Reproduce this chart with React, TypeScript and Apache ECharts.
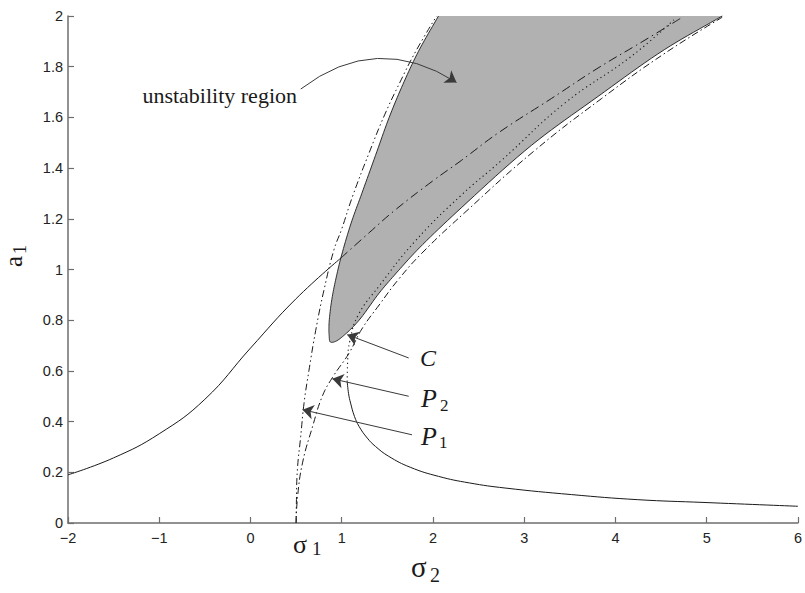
import React, { useEffect, useRef } from "react";
import * as echarts from "echarts";

// ---- data (x = sigma_2, y = a_1) ----
const lowerLeftBranch: number[][] = [
  [-2, 0.19], [-1.5, 0.257], [-1.0, 0.352], [-0.5, 0.488], [0.0, 0.69], [0.5, 0.885], [0.99, 1.045],
];
const upperContinuation: number[][] = [
  [0.99, 1.045], [1.3, 1.145], [1.59, 1.236], [2.0, 1.35], [2.31, 1.43], [2.72, 1.54],
  [3.3, 1.675], [3.81, 1.795], [4.3, 1.9], [4.71, 1.99],
];
const middleBranch: number[][] = [
  [1.06, 0.558], [1.065, 0.64], [1.09, 0.72], [1.18, 0.82], [1.41, 0.935], [1.8, 1.11],
  [2.3, 1.29], [2.75, 1.43], [3.44, 1.655], [4.17, 1.84], [4.64, 1.985],
];
const lowerRightBranch: number[][] = [
  [1.06, 0.558], [1.075, 0.51], [1.097, 0.473], [1.14, 0.42], [1.19, 0.381], [1.28, 0.335],
  [1.37, 0.302], [1.515, 0.263], [1.75, 0.22], [2.06, 0.184], [2.4, 0.158], [2.79, 0.138],
  [3.52, 0.112], [4.245, 0.092], [4.97, 0.081], [6.0, 0.066],
];
// boundary of the shaded region: right edge (top -> tip), then left edge (tip -> top)
const regionBoundary: number[][] = [
  [5.17, 2.0], [4.535, 1.867], [3.81, 1.683], [3.08, 1.49], [2.315, 1.245], [1.85, 1.085],
  [1.62, 0.995], [1.41, 0.907], [1.19, 0.8], [1.04, 0.745], [0.93, 0.716], [0.875, 0.714],
  [0.862, 0.74], [0.86, 0.78], [0.875, 0.84], [0.9, 0.9], [0.94, 0.97], [0.99, 1.045],
  [1.1, 1.18], [1.22, 1.3], [1.37, 1.45], [1.52, 1.6], [1.67, 1.73], [1.84, 1.86], [2.06, 2.0],
];
const curveP1: number[][] = [
  [0.5, 0], [0.503, 0.08], [0.514, 0.21], [0.55, 0.34], [0.587, 0.473], [0.64, 0.6],
  [0.715, 0.76], [0.806, 0.92], [0.915, 1.078], [1.0, 1.16], [1.12, 1.29], [1.3, 1.46],
  [1.47, 1.61], [1.64, 1.74], [1.81, 1.86], [2.04, 2.0],
];
const curveP2: number[][] = [
  [0.5, 0], [0.515, 0.1], [0.57, 0.237], [0.68, 0.38], [0.787, 0.5], [0.9, 0.575],
  [1.08, 0.67], [1.22, 0.765], [1.41, 0.86], [1.62, 0.96], [1.88, 1.065], [2.35, 1.225],
  [3.1, 1.465], [3.85, 1.675], [4.55, 1.855], [5.17, 1.995],
];
// annotation arrows (tail -> head), data coordinates
const arrowRegion: number[][] = [[0.551, 1.712], [2.258, 1.738]];
const arrowC: number[][] = [[1.734, 0.651], [1.06, 0.743]];
const arrowP2: number[][] = [[1.734, 0.5], [0.897, 0.569]];
const arrowP1: number[][] = [[1.77, 0.348], [0.57, 0.447]];

const SERIF = '"Liberation Serif", "DejaVu Serif", serif';
const SANS = '"Liberation Sans", Arial, sans-serif';
const INK = "#1a1a1a";

// centripetal Catmull-Rom through pixel points (rendering only)
function splinePixels(pts: number[][], steps = 10): number[][] {
  const out: number[][] = [];
  const n = pts.length;
  const d = (a: number[], b: number[]) => Math.max(Math.sqrt(Math.hypot(b[0] - a[0], b[1] - a[1])), 1e-4);
  for (let i = 0; i < n - 1; i++) {
    const p1 = pts[i], p2 = pts[i + 1];
    const p0 = i > 0 ? pts[i - 1] : [2 * p1[0] - p2[0], 2 * p1[1] - p2[1]];
    const p3 = i + 2 < n ? pts[i + 2] : [2 * p2[0] - p1[0], 2 * p2[1] - p1[1]];
    const t0 = 0, t1 = t0 + d(p0, p1), t2 = t1 + d(p1, p2), t3 = t2 + d(p2, p3);
    for (let s = 0; s < steps; s++) {
      const t = t1 + ((t2 - t1) * s) / steps;
      const lerp = (a: number[], b: number[], ta: number, tb: number) => {
        const w = (t - ta) / (tb - ta);
        return [a[0] + (b[0] - a[0]) * w, a[1] + (b[1] - a[1]) * w];
      };
      const A1 = lerp(p0, p1, t0, t1), A2 = lerp(p1, p2, t1, t2), A3 = lerp(p2, p3, t2, t3);
      const B1 = lerp(A1, A2, t0, t2), B2 = lerp(A2, A3, t1, t3);
      out.push(lerp(B1, B2, t1, t2));
    }
  }
  out.push(pts[n - 1]);
  return out;
}

function txt(text: string, x: number, baseline: number, size: number, opts: any = {}) {
  return {
    type: "text",
    x,
    y: baseline - 0.3375 * size,
    silent: true,
    style: {
      text,
      fontSize: size,
      fontFamily: SERIF,
      fontStyle: opts.italic ? "italic" : "normal",
      fill: INK,
      align: opts.align || "left",
      textAlign: opts.align || "left",
      verticalAlign: "middle",
      textVerticalAlign: "middle",
    },
  };
}

export default function App() {
  const ref = useRef<HTMLDivElement>(null);
  useEffect(() => {
    const chart = echarts.init(ref.current!, null, { renderer: "svg" });
    const lineSeries = (data: number[][], type: any, width = 1) => ({
      type: "line",
      data,
      symbol: "none",
      smooth: 0.45,
      silent: true,
      lineStyle: { color: INK, width, type },
      z: 3,
    });
    const arrowBase = {
      type: "lines",
      coordinateSystem: "cartesian2d",
      silent: true,
      z: 5,
      symbol: ["none", "arrow"],
      symbolSize: [6, 11],
    };
    const option: any = {
      animation: false,
      backgroundColor: "#ffffff",
      grid: { left: 68, right: 5, top: 16, bottom: 70 },
      xAxis: {
        type: "value",
        min: -2,
        max: 6,
        interval: 1,
        splitLine: { show: false },
        axisLine: { onZero: false, lineStyle: { color: "#6e6e6e", width: 1.5 } },
        axisTick: { inside: true, length: 6, lineStyle: { color: "#6e6e6e", width: 1.2 } },
        axisLabel: {
          margin: 7,
          color: "#222",
          fontSize: 14.5,
          fontFamily: SANS,
          formatter: (v: number) => String(v).replace("-", "\u2212"),
        },
      },
      yAxis: {
        type: "value",
        min: 0,
        max: 2,
        interval: 0.2,
        splitLine: { show: false },
        axisLine: { onZero: false, lineStyle: { color: "#6e6e6e", width: 1.5 } },
        axisTick: { inside: true, length: 6, lineStyle: { color: "#6e6e6e", width: 1.2 } },
        axisLabel: { margin: 5, color: "#222", fontSize: 14.5, fontFamily: SANS },
      },
      series: [
        {
          type: "custom",
          coordinateSystem: "cartesian2d",
          data: regionBoundary,
          encode: { x: 0, y: 1 },
          silent: true,
          z: 2,
          renderItem: (params: any, api: any) => {
            if (params.dataIndex !== 0) return null;
            const pix = splinePixels(regionBoundary.map((p) => api.coord(p)));
            return {
              type: "group",
              children: [
                { type: "polygon", shape: { points: pix }, style: { fill: "#b1b1b1", stroke: "none" } },
                { type: "polyline", shape: { points: pix }, style: { fill: "none", stroke: INK, lineWidth: 0.9 } },
              ],
            };
          },
        },
        lineSeries(lowerLeftBranch, "solid", 1),
        lineSeries(lowerRightBranch, "solid", 1),
        lineSeries(upperContinuation, [9, 4, 1.5, 4], 1),
        lineSeries(middleBranch, [1.2, 3.2], 1.1),
        lineSeries(curveP1, [7, 3, 1.5, 3, 1.5, 3], 1),
        lineSeries(curveP2, [7, 3, 1.5, 3], 1),
        {
          ...arrowBase,
          lineStyle: { color: "#3a3a3a", width: 1, opacity: 1, curveness: 0.35 },
          data: [{ coords: arrowRegion }],
        },
        {
          ...arrowBase,
          lineStyle: { color: "#3a3a3a", width: 1, opacity: 1, curveness: 0 },
          data: [{ coords: arrowC }, { coords: arrowP2 }, { coords: arrowP1 }],
        },
      ],
      graphic: [
        txt("unstability region", 297, 103, 22, { align: "right" }),
        txt("C", 420, 366, 24, { italic: true }),
        txt("P", 421, 407, 26, { italic: true }),
        txt("2", 440, 411, 17),
        txt("P", 421, 445, 26, { italic: true }),
        txt("1", 439, 448, 17),
        txt("\u03c3", 293, 553, 26),
        txt("1", 312, 555, 19),
        txt("\u03c3", 411, 577, 29),
        txt("2", 430, 582, 20),
        {
          type: "group",
          x: 22,
          y: 267,
          rotation: Math.PI / 2,
          silent: true,
          children: [txt("a", 0, 0, 25), txt("1", 13, 4, 18)],
        },
      ],
    };
    chart.setOption(option);
    return () => chart.dispose();
  }, []);
  return (
    <div
      ref={ref}
      style={{ position: "fixed", left: 0, top: 0, width: 805, height: 593, background: "#fff" }}
    />
  );
}
